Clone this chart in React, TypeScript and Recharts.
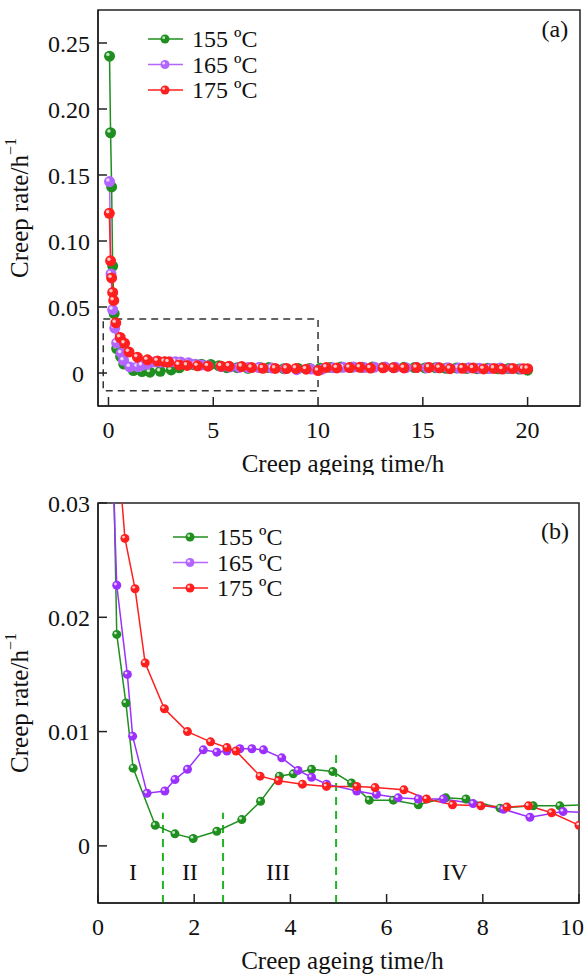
import React from "react";
import {
  LineChart,
  Line,
  XAxis,
  YAxis,
  ReferenceArea,
  ReferenceLine,
  ReferenceDot,
  Legend,
} from "recharts";

const FONT = '"Liberation Serif", "Times New Roman", serif';
const INK = "#111";

const labels = ["155 ºC", "165 ºC", "175 ºC"];
const colorsA = ["#1f8f1f", "#b366ff", "#ff1f1f"];
const colorsB = ["#1f8f1f", "#9b30ff", "#ff1f1f"];
const legendColorsB = ["#1f8f1f", "#b366ff", "#ff1f1f"];

// 155 ºC
const t155 = [
  0.05, 0.1, 0.15, 0.2, 0.27, 0.39, 0.58, 0.73, 1.19, 1.6, 1.98, 2.47, 2.99, 3.38, 3.77, 4.06,
  4.44, 4.88, 5.27, 5.64, 6.14, 6.66, 7.23, 7.65, 8.36, 9.05, 9.6, 10.1, 10.6, 11.1, 11.6, 12.1,
  12.6, 13.1, 13.6, 14.1, 14.6, 15.1, 15.6, 16.1, 16.6, 17.1, 17.6, 18.1, 18.6, 19.1, 19.6, 20.0,
];
const v155 = [
  0.24, 0.182, 0.141, 0.081, 0.045, 0.0185, 0.0125, 0.0068, 0.0018, 0.00105, 0.00064, 0.00128,
  0.0023, 0.0039, 0.0061, 0.0063, 0.0067, 0.0065, 0.0055, 0.004, 0.004, 0.0036, 0.0042, 0.0041,
  0.0033, 0.0035, 0.0035, 0.0036, 0.0042, 0.0046, 0.0044, 0.0043, 0.0046, 0.0042, 0.004, 0.0043,
  0.0041, 0.0038, 0.004, 0.0036, 0.0038, 0.0035, 0.0033, 0.0036, 0.0032, 0.0034, 0.003, 0.0021,
];

// 165 ºC
const t165 = [
  0.05, 0.12, 0.2, 0.3, 0.39, 0.61, 0.72, 1.02, 1.39, 1.6, 1.86, 2.19, 2.47, 2.68, 2.95, 3.2,
  3.44, 3.82, 4.16, 4.44, 4.75, 5.38, 5.79, 6.24, 6.66, 7.18, 7.8, 8.43, 8.98, 9.67, 10.2, 10.7,
  11.2, 11.7, 12.2, 12.7, 13.2, 13.7, 14.2, 14.7, 15.2, 15.7, 16.2, 16.7, 17.2, 17.7, 18.2, 18.7,
  19.2, 19.7,
];
const v165 = [
  0.145, 0.075, 0.048, 0.034, 0.0228, 0.015, 0.0096, 0.0046, 0.0048, 0.0058, 0.0067, 0.0084,
  0.0082, 0.0083, 0.0085, 0.0085, 0.0084, 0.0077, 0.0066, 0.006, 0.0054, 0.0048, 0.0045, 0.0042,
  0.0041, 0.0041, 0.0037, 0.0032, 0.0025, 0.003, 0.0029, 0.004, 0.0043, 0.0045, 0.0041, 0.0044,
  0.0046, 0.0043, 0.004, 0.0042, 0.0039, 0.0041, 0.004, 0.0037, 0.0039, 0.0036, 0.0034, 0.0037,
  0.0033, 0.0031,
];

// 175 ºC
const t175 = [
  0.04, 0.1, 0.15, 0.2, 0.25, 0.35, 0.56, 0.77, 0.98, 1.38, 1.86, 2.34, 2.68, 2.87, 3.37, 3.75,
  4.25, 4.75, 5.38, 5.76, 6.36, 6.83, 7.37, 7.96, 8.5, 8.95, 9.43, 10.0, 10.4, 10.9, 11.5, 12.0,
  12.5, 13.1, 13.6, 14.1, 14.7, 15.3, 15.8, 16.3, 16.9, 17.4, 17.9, 18.4, 18.8, 19.3, 19.8, 20.0,
];
const v175 = [
  0.121, 0.085, 0.072, 0.061, 0.055, 0.038, 0.0269, 0.0225, 0.016, 0.012, 0.01, 0.0091, 0.0086,
  0.0083, 0.0061, 0.0057, 0.0054, 0.0052, 0.0052, 0.0051, 0.0049, 0.0041, 0.0036, 0.0035, 0.0034,
  0.0035, 0.0029, 0.0018, 0.0042, 0.0038, 0.0041, 0.0043, 0.0037, 0.0039, 0.004, 0.0038, 0.0041,
  0.0042, 0.0039, 0.0033, 0.0036, 0.0037, 0.0031, 0.0035, 0.003, 0.0034, 0.0032, 0.0033,
];

const xTicksA = [0, 5, 10, 15, 20];
const yTicksA = [0, 0.05, 0.1, 0.15, 0.2, 0.25];
const xTicksB = [0, 2, 4, 6, 8, 10];
const yTicksB = [0, 0.01, 0.02, 0.03];

// stage boundaries and labels in panel (b)
const stageBounds = [1.35, 2.6, 4.95];
const stageTops = [0.0029, 0.0029, 0.0084];
const stageNames = ["I", "II", "III", "IV"];
const stageX = [0.73, 1.91, 3.74, 7.42];

const toPoints = (ts: number[], vs: number[]) => ts.map((t, i) => ({ t, v: vs[i] }));
const series = [toPoints(t155, v155), toPoints(t165, v165), toPoints(t175, v175)];

const fmt = (v: number) => (v === 0 ? "0" : v.toFixed(2));

const makeDot = (color: string, r: number) => (props: any) => {
  const { cx, cy, index } = props;
  if (cx == null || cy == null) return <g key={index} />;
  return (
    <g key={index}>
      <circle cx={cx} cy={cy} r={r} fill={color} />
      <circle cx={cx - r * 0.3} cy={cy - r * 0.3} r={r * 0.32} fill="#fff" opacity={0.75} />
    </g>
  );
};

// last label on panel (b) is pulled in so it stays inside the figure
const makeXTick = (lastValue: number, lastShift: number) => (props: any) => {
  const { x, y, payload } = props;
  const shift = payload.value === lastValue ? lastShift : 0;
  return (
    <text x={x + shift} y={y} dy="0.71em" textAnchor="middle" fontSize={24} fontFamily={FONT} fill={INK}>
      {payload.value}
    </text>
  );
};

// the zero label on panel (a) sits a little left of the others
const makeYTick = (zeroShift: number) => (props: any) => {
  const { x, y, payload } = props;
  const shift = payload.value === 0 ? zeroShift : 0;
  return (
    <text
      x={x + shift}
      y={y}
      dy="0.355em"
      textAnchor="end"
      fontSize={24}
      fontFamily={FONT}
      fill={INK}
    >
      {fmt(payload.value)}
    </text>
  );
};

const LegendBox = ({ lineColors }: { lineColors: string[] }) => (
  <svg width={160} height={80} style={{ display: "block", overflow: "visible" }}>
    {labels.map((label, i) => {
      const y = 12 + i * 25.5;
      return (
        <g key={label}>
          <line x1={0} x2={35} y1={y} y2={y} stroke={lineColors[i]} strokeWidth={1.5} />
          <circle cx={17} cy={y} r={4.5} fill={lineColors[i]} />
          <circle cx={15.7} cy={y - 1.3} r={1.4} fill="#fff" opacity={0.75} />
          <text x={44} y={y} dominantBaseline="central" fontSize={24} fontFamily={FONT} fill={INK}>
            {label}
          </text>
        </g>
      );
    })}
  </svg>
);

const yLabel = (props: any) => {
  const vb = props.viewBox || {};
  const cx = (vb.x || 0) + 19;
  const cy = (vb.y || 0) + (vb.height || 0) / 2;
  return (
    <text
      x={cx}
      y={cy}
      transform={`rotate(-90, ${cx}, ${cy})`}
      textAnchor="middle"
      dominantBaseline="central"
      fontSize={25}
      fontFamily={FONT}
      fill={INK}
    >
      Creep rate/h
      <tspan dy={-9} fontSize={16}>
        −1
      </tspan>
    </text>
  );
};

const xLabel = (props: any) => {
  const vb = props.viewBox || {};
  return (
    <text
      x={(vb.x || 0) + (vb.width || 0) / 2 + 4}
      y={(vb.y || 0) + 57}
      textAnchor="middle"
      dominantBaseline="central"
      fontSize={25}
      fontFamily={FONT}
      fill={INK}
    >
      Creep ageing time/h
    </text>
  );
};

const textLabel = (value: string) => ({
  value,
  position: "center" as const,
  fontSize: 24,
  fill: INK,
  fontFamily: FONT,
});

function PanelA() {
  return (
    <LineChart
      width={587}
      height={475}
      margin={{ top: 10, right: 7, bottom: 0, left: 0 }}
      style={{ fontFamily: FONT }}
    >
      <XAxis
        dataKey="t"
        type="number"
        domain={[-0.5, 22.5]}
        ticks={xTicksA}
        tick={makeXTick(-1, 0)}
        tickSize={-9}
        tickMargin={24}
        height={69}
        stroke="#222"
        strokeWidth={1.5}
        label={{ content: xLabel }}
      />
      <YAxis
        type="number"
        domain={[-0.025, 0.275]}
        ticks={yTicksA}
        tick={makeYTick(-6)}
        tickSize={-9}
        tickMargin={17}
        width={98}
        stroke="#222"
        strokeWidth={1.5}
        label={{ content: yLabel }}
      />
      <ReferenceArea x1={-0.5} x2={22.5} y1={-0.025} y2={0.275} fill="none" stroke="#222" strokeWidth={1.5} />
      <ReferenceArea
        x1={-0.25}
        x2={10}
        y1={-0.0135}
        y2={0.041}
        fill="none"
        stroke="#333"
        strokeWidth={1.5}
        strokeDasharray="7 5"
      />
      {series.map((d, i) => (
        <Line
          key={labels[i]}
          data={d}
          dataKey="v"
          type="linear"
          stroke={colorsA[i]}
          strokeWidth={1.5}
          dot={makeDot(colorsA[i], 5.5)}
          activeDot={false}
          isAnimationActive={false}
        />
      ))}
      <ReferenceDot x={21.3} y={0.261} r={1} fill="none" stroke="none" label={textLabel("(a)")} />
      <Legend
        layout="horizontal"
        verticalAlign="middle"
        align="center"
        wrapperStyle={{ left: 148, top: 27, width: 160 }}
        content={() => <LegendBox lineColors={colorsA} />}
      />
    </LineChart>
  );
}

function PanelB() {
  return (
    <LineChart
      width={587}
      height={494}
      margin={{ top: 23, right: 8, bottom: 0, left: 0 }}
      style={{ fontFamily: FONT }}
    >
      <XAxis
        dataKey="t"
        type="number"
        domain={[0, 10]}
        allowDataOverflow
        ticks={xTicksB}
        tick={makeXTick(10, -7)}
        tickSize={-9}
        tickMargin={24}
        height={71}
        stroke="#222"
        strokeWidth={1.5}
        label={{ content: xLabel }}
      />
      <YAxis
        type="number"
        domain={[-0.005, 0.03]}
        allowDataOverflow
        ticks={yTicksB}
        tick={makeYTick(0)}
        tickSize={-9}
        tickMargin={17}
        width={98}
        stroke="#222"
        strokeWidth={1.5}
        label={{ content: yLabel }}
      />
      <ReferenceArea x1={0} x2={10} y1={-0.005} y2={0.03} fill="none" stroke="#222" strokeWidth={1.5} />
      {stageBounds.map((x, i) => (
        <ReferenceLine
          key={x}
          segment={[
            { x, y: -0.005 },
            { x, y: stageTops[i] },
          ]}
          stroke="#22b522"
          strokeWidth={2}
          strokeDasharray="8 6"
        />
      ))}
      {series.map((d, i) => (
        <Line
          key={labels[i]}
          data={d}
          dataKey="v"
          type="linear"
          stroke={colorsB[i]}
          strokeWidth={1.5}
          dot={makeDot(colorsB[i], 4.5)}
          activeDot={false}
          isAnimationActive={false}
        />
      ))}
      {stageNames.map((name, i) => (
        <ReferenceDot key={name} x={stageX[i]} y={-0.0022} r={1} fill="none" stroke="none" label={textLabel(name)} />
      ))}
      <ReferenceDot x={9.5} y={0.0276} r={1} fill="none" stroke="none" label={textLabel("(b)")} />
      <Legend
        layout="horizontal"
        verticalAlign="middle"
        align="center"
        wrapperStyle={{ left: 173, top: 45, width: 160 }}
        content={() => <LegendBox lineColors={legendColorsB} />}
      />
    </LineChart>
  );
}

export default function App() {
  return (
    <div style={{ position: "absolute", left: 0, top: 0, width: 587, height: 974, background: "#fff" }}>
      <div style={{ position: "absolute", left: 0, top: 0 }}>
        <PanelA />
      </div>
      <div style={{ position: "absolute", left: 0, top: 480 }}>
        <PanelB />
      </div>
    </div>
  );
}
